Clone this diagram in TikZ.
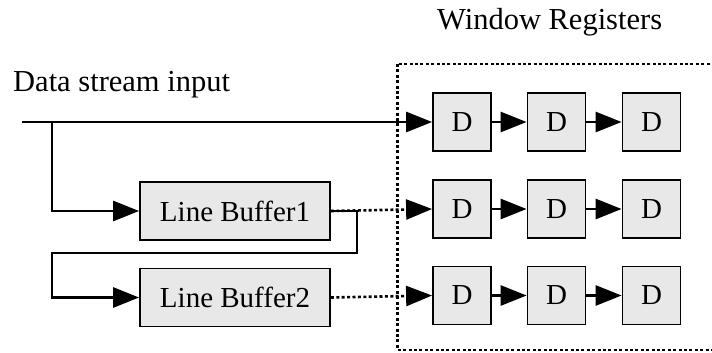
\documentclass[tikz,border=0pt]{standalone}
\usepackage{fontspec}
\setmainfont{Liberation Serif}
\usetikzlibrary{arrows.meta,positioning}
\begin{document}
\begin{tikzpicture}[x=1pt,y=-1pt,
  reg/.style={draw=black,line width=1.8pt,fill=black!9,minimum width=58pt,minimum height=58pt,inner sep=0pt,font=\fontsize{29}{34}\selectfont},
  buf/.style={draw=black,line width=1.8pt,fill=black!9,minimum width=190pt,minimum height=58pt,inner sep=0pt,font=\fontsize{29}{34}\selectfont},
  wire/.style={line width=2.8pt},
  dotwire/.style={line width=2.6pt,dash pattern=on 3pt off 2.4pt},
  tip/.style={-{Triangle[length=26pt,width=20pt]}},
  title/.style={anchor=base west,inner sep=0pt,font=\fontsize{30.5}{36}\selectfont}]
\useasboundingbox (0,0) rectangle (712,353);
\begin{scope}
\clip (0,0) rectangle (712,353);
% window register enclosure (runs past the right edge)
\draw[line width=2.4pt,dash pattern=on 3pt off 2.4pt] (397.5,64) rectangle (740,350);
\end{scope}
% labels
\node[title] (lblin) at (13,92) {Data stream input};
\node[title] (lblwin) at (437,30) {Window Registers};
% line buffers
\node[buf] (lb1) at (235,211) {Line Buffer1};
\node[buf] (lb2) at (235,297.5) {Line Buffer2};
% register array
\foreach \r/\y in {1/122,2/209,3/295.5}{
  \node[reg] (d\r1) at (462,\y) {D};
  \node[reg] (d\r2) at (556.5,\y) {D};
  \node[reg] (d\r3) at (651.5,\y) {D};
  \draw[wire,tip] (d\r1) -- (d\r2);
  \draw[wire,tip] (d\r2) -- (d\r3);
}
% input stream and its tap to the first buffer
\coordinate (start) at (22,122);
\coordinate (tap) at (52,122);
\draw[wire,tip] (start) -- (d11);
\draw[wire,tip] (tap) |- (lb1);
% buffer chain
\coordinate (c1) at (357,211);
\coordinate (c2) at (357,253);
\coordinate (c3) at (52,253);
\draw[wire,tip] (lb1.east) -- (c1) -- (c2) -- (c3) |- (lb2);
% buffer outputs into the registers
\draw[dotwire,tip] (lb1.east) -- (d21.west);
\draw[dotwire,tip] (lb2.east) -- (d31.west);
\end{tikzpicture}
\end{document}
